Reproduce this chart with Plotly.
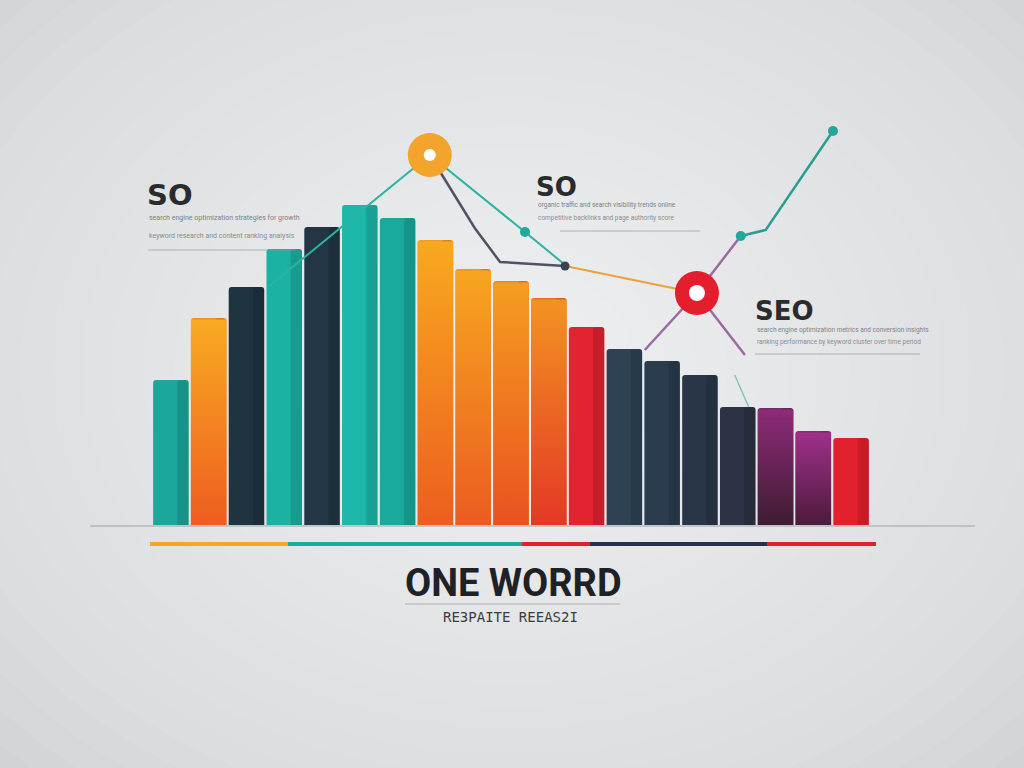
import plotly.graph_objects as go

# ---- data ----
bar_x = list(range(19))
bar_values = [145, 207, 238, 276, 298, 320, 307, 285, 256, 244, 227, 198, 176, 164, 150, 118, 117, 94, 87]
bar_colors = ["#1ba79b", "#f58d22", "#1f3441", "#1bb1a3", "#233645", "#1db7a9", "#19aa9d",
              "#f59a20", "#f39420", "#f0851f", "#ee6b22", "#e32331", "#2e4254", "#2b3c4e",
              "#293648", "#2d3344", "#7a2a62", "#8f2a76", "#e3202e"]
# top / bottom colours for the gradient-filled bars
grad_index = [1, 7, 8, 9, 10, 16, 17]
grad_top = ["#f8ab22", "#f8a91f", "#f7a520", "#f59d21", "#f39322", "#8e2b78", "#a0308a"]
grad_bottom = ["#ee5d1f", "#ec5e1f", "#eb5c20", "#e9521f", "#e43826", "#3e1c33", "#4c1b3c"]

teal_x = [2.57, 6.85, 9.37, 10.37]
teal_y = [238, 370, 293, 262]
teal2_x = [15.08, 15.74, 17.52]
teal2_y = [289, 295, 394]
teal3_x = [14.92, 15.29]
teal3_y = [150, 118]
gray_x = [6.85, 8.04, 8.71, 10.43]
gray_y = [370, 297, 263, 259]
orange_x = [10.43, 13.92]
orange_y = [259, 232]
purple_x = [12.54, 13.92, 15.08]
purple_y = [175, 232, 289]
purple2_x = [13.92, 15.19]
purple2_y = [232, 170]
dot_x = [9.37, 15.08, 17.52]
dot_y = [293, 289, 394]
hub_x = [6.85, 13.92]
hub_y = [370, 232]
hub_colors = ["#f2a42c", "#e31e2d"]

W, H = 1024, 768
BAR_W = 0.94

fig = go.Figure()

# background radial glow
N = 24
for k in range(N):
    rx = 0.78 - k * 0.03
    ry = 0.80 - k * 0.03
    fig.add_shape(type="circle", xref="paper", yref="paper",
                  x0=0.5 - rx, x1=0.5 + rx, y0=0.52 - ry, y1=0.52 + ry,
                  fillcolor="rgba(255,255,255,0.055)", line_width=0, layer="below")

# floor line
fig.add_shape(type="line", xref="paper", yref="paper", x0=90 / W, x1=975 / W,
              y0=1 - 526 / H, y1=1 - 526 / H, line=dict(color="rgba(160,162,165,0.5)", width=2),
              layer="below")

fig.add_trace(go.Bar(x=bar_x, y=bar_values, width=BAR_W, marker=dict(color=bar_colors, line_width=0),
                     hoverinfo="skip", showlegend=False))

# vertical gradients on the warm / purple bars
for i, ct, cb in zip(grad_index, grad_top, grad_bottom):
    x0, x1 = bar_x[i] - BAR_W / 2, bar_x[i] + BAR_W / 2
    v = bar_values[i] - 1.5
    fig.add_trace(go.Scatter(x=[x0, x0, x1, x1, x0], y=[0, v, v, 0, 0], mode="lines",
                             line=dict(width=0), fill="toself",
                             fillgradient=dict(type="vertical", colorscale=[[0, cb], [1, ct]]),
                             hoverinfo="skip", showlegend=False))

# right-side shading for depth
fig.add_trace(go.Bar(x=bar_x, y=bar_values, width=0.3, offset=0.17,
                     marker=dict(color="rgba(0,0,0,0.12)", line_width=0), hoverinfo="skip", showlegend=False))

def line(x, y, color, w=2):
    fig.add_trace(go.Scatter(x=x, y=y, mode="lines", line=dict(color=color, width=w),
                             hoverinfo="skip", showlegend=False))

line(gray_x, gray_y, "#4f5262", 2.5)
line(teal_x, teal_y, "#2bb3a2", 2)
line(orange_x, orange_y, "#e9a33a", 2)
line(purple_x, purple_y, "#9a6ba3", 2.5)
line(purple2_x, purple2_y, "#9a6ba3", 2.5)
line(teal2_x, teal2_y, "#2a9c92", 2.5)
line(teal3_x, teal3_y, "#7fc8bb", 1.5)

fig.add_trace(go.Scatter(x=dot_x, y=dot_y, mode="markers",
                         marker=dict(size=10, color="#22a89a", opacity=1, line_width=0),
                         hoverinfo="skip", showlegend=False))
fig.add_trace(go.Scatter(x=[10.43], y=[259], mode="markers",
                         marker=dict(size=9, color="#3c4254", opacity=1, line_width=0),
                         hoverinfo="skip", showlegend=False))
fig.add_trace(go.Scatter(x=hub_x, y=hub_y, mode="markers",
                         marker=dict(size=44, color=hub_colors, opacity=1, line_width=0),
                         hoverinfo="skip", showlegend=False))
fig.add_trace(go.Scatter(x=hub_x, y=hub_y, mode="markers",
                         marker=dict(size=[12, 16], color="#ffffff", opacity=1, line_width=0),
                         hoverinfo="skip", showlegend=False))

# bottom colored strip
strip = [(150, 288, "#f5a623"), (288, 522, "#1aab9d"), (522, 590, "#e0202c"),
         (590, 767, "#27324a"), (767, 876, "#e0202c")]
for a, b, c in strip:
    fig.add_shape(type="line", xref="paper", yref="paper", x0=a / W, x1=b / W,
                  y0=1 - 544 / H, y1=1 - 544 / H, line=dict(color=c, width=4))

def txt(x, y, s, size, color, bold=False, family="DejaVu Sans", xanchor="left"):
    fig.add_annotation(x=x / W, y=1 - y / H, xref="paper", yref="paper", text=s, showarrow=False,
                       xanchor=xanchor, yanchor="middle",
                       font=dict(size=size, color=color, family=family, weight=700 if bold else 400))

def rule(x0, x1, y, color="rgba(150,152,155,0.7)"):
    fig.add_shape(type="line", xref="paper", yref="paper", x0=x0 / W, x1=x1 / W,
                  y0=1 - y / H, y1=1 - y / H, line=dict(color=color, width=1))

SUB = "Roboto"
# left label
txt(145, 195, "SO", 29, "#2a2b2d", True)
txt(147, 218, "search engine optimization strategies for growth", 7, "#7d7f83", family=SUB)
txt(147, 236, "keyword research and content ranking analysis", 7, "#8a8c90", family=SUB)
rule(148, 296, 250)
# middle label
txt(534, 187, "SO", 26, "#2a2b2d", True)
txt(536, 205, "organic traffic and search visibility trends online", 6.5, "#7d7f83", family=SUB)
txt(536, 218, "competitive backlinks and page authority score", 6.5, "#8a8c90", family=SUB)
rule(560, 700, 231)
# right label
txt(753, 311, "SEO", 26, "#2a2b2d", True)
txt(755, 330, "search engine optimization metrics and conversion insights", 6.5, "#7d7f83", family=SUB)
txt(755, 342, "ranking performance by keyword cluster over time period", 6.5, "#8a8c90", family=SUB)
rule(755, 920, 354)

# bottom title
txt(513, 583, "ONE WORRD", 38, "#1e2226", True, family="Roboto", xanchor="center")
rule(405, 620, 604)
txt(510, 617, "RE3PAITE REEAS2I", 14, "#3a3d42", False, family="DejaVu Sans Mono", xanchor="center")

fig.update_layout(
    width=W, height=H, margin=dict(l=0, r=0, t=0, b=0),
    paper_bgcolor="#cbcdd0", plot_bgcolor="rgba(0,0,0,0)",
    barmode="overlay", barcornerradius=3, showlegend=False,
    xaxis=dict(domain=[152 / W, 870 / W], range=[-0.5, 18.5], visible=False, fixedrange=True),
    yaxis=dict(domain=[243 / H, 668 / H], range=[0, 425], visible=False, fixedrange=True),
)

fig.write_html("out.html", config={"displayModeBar": False},
               post_script="document.body.style.margin='0';document.body.style.overflow='hidden';")
